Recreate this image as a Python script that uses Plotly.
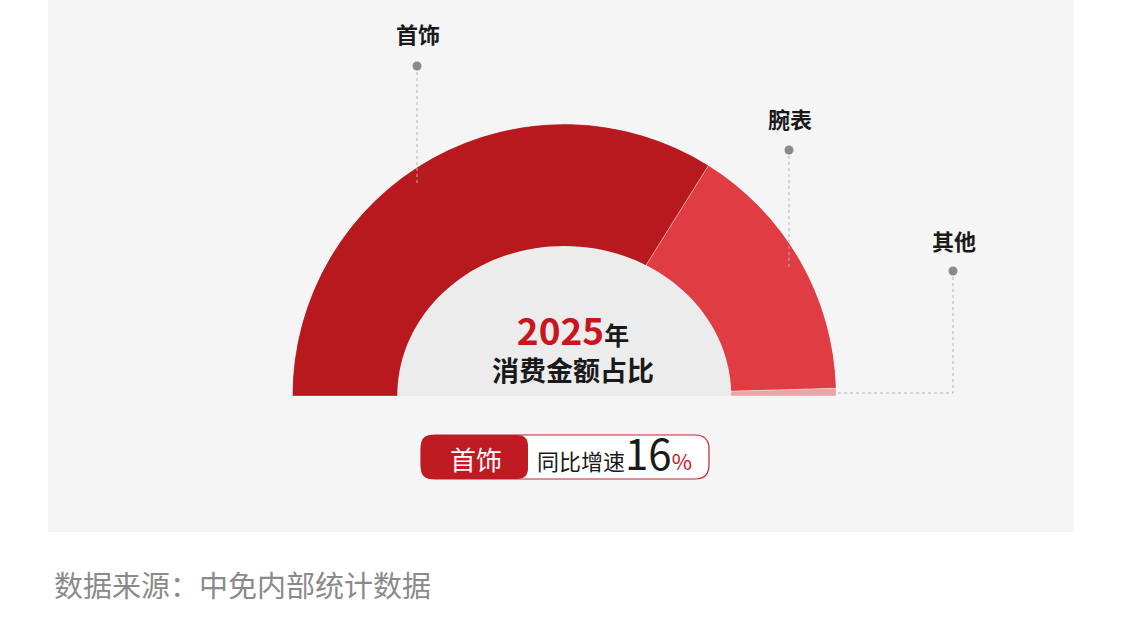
import plotly.graph_objects as go

# ---------------- data ----------------
categories = ["首饰", "腕表", "其他"]
shares = [67.8, 31.3, 0.9]          # % of consumption amount
year_label = "2025"
center_label = "消费金额占比"
highlight_category = "首饰"
growth_label = "同比增速"
growth_value = 16
source_text = "数据来源：中免内部统计数据"

# ---------------- style ----------------
colors = ["#b8191f", "#df3d43", "#eba5a8"]
FONT = "Noto Sans CJK SC"
W, H = 1126, 625


def X(px):
    return px / W


def Y(py):
    return 1 - py / H


def P(px, py):
    return f"{X(px):.5f},{Y(py):.5f}"


# angles computed from shares (half circle, clockwise from the left)
total = sum(shares)
thetas, widths = [], []
start = 180.0
for s in shares:
    span = s / total * 180.0
    thetas.append(start - span / 2)
    widths.append(span)
    start -= span

fig = go.Figure(
    go.Barpolar(
        r=[1] * len(shares),
        theta=thetas,
        width=widths,
        marker=dict(color=colors, line=dict(color="rgba(255,255,255,0.55)", width=0.6)),
        hoverinfo="skip",
        showlegend=False,
    )
)

cx, cy, R = 564.25, 396.0, 272.0
fig.update_layout(
    width=W,
    height=H,
    margin=dict(l=0, r=0, t=0, b=0),
    paper_bgcolor="#ffffff",
    plot_bgcolor="#ffffff",
    polar=dict(
        domain=dict(x=[X(cx - R), X(cx + R)], y=[Y(cy), Y(cy - R)]),
        sector=[0, 180],
        hole=0.54,
        bgcolor="rgba(0,0,0,0)",
        radialaxis=dict(visible=False, range=[0, 1], showgrid=False, showline=False,
                        showticklabels=False, ticks=""),
        angularaxis=dict(visible=False, showgrid=False, showline=False,
                         showticklabels=False, ticks=""),
    ),
)

shapes = []
# background panel
shapes.append(dict(type="rect", xref="paper", yref="paper", x0=X(48), x1=X(1074),
                   y0=Y(532), y1=1, fillcolor="#f5f5f5", line=dict(width=0), layer="below"))

# inner half ellipse
rx, ry, k = 167.0, 150.0, 0.5523
ell = (f"M {P(cx - rx, cy)} C {P(cx - rx, cy - k * ry)} {P(cx - k * rx, cy - ry)} {P(cx, cy - ry)} "
       f"C {P(cx + k * rx, cy - ry)} {P(cx + rx, cy - k * ry)} {P(cx + rx, cy)} Z")
shapes.append(dict(type="path", xref="paper", yref="paper", path=ell,
                   fillcolor="#ececec", line=dict(width=0), layer="above"))

# leader lines and labels
leaders = [
    # (label, label x, label y, dot y, path points)
    (categories[0], 418, 33, 66, [(417, 66), (417, 186)]),
    (categories[1], 790, 118, 150, [(789, 150), (789, 270)]),
    (categories[2], 954, 240, 271, [(953, 271), (953, 393), (836, 393)]),
]
annotations = []
for lab, lx, ly, dy, pts in leaders:
    path = "M " + " L ".join(P(a, b) for a, b in pts)
    shapes.append(dict(type="path", xref="paper", yref="paper", path=path,
                       line=dict(color="#b5b5b5", width=1, dash="dot"), layer="above"))
    dx = pts[0][0]
    shapes.append(dict(type="circle", xref="paper", yref="paper",
                       x0=X(dx - 4.5), x1=X(dx + 4.5), y0=Y(dy + 4.5), y1=Y(dy - 4.5),
                       fillcolor="#8a8a8a", line=dict(width=0), layer="above"))
    annotations.append(dict(x=X(lx), y=Y(ly), xref="paper", yref="paper",
                            text=f"<b>{lab}</b>", showarrow=False,
                            xanchor="center", yanchor="middle",
                            font=dict(family=FONT, size=22, color="#1a1a1a")))

# center labels (one two-line annotation)
annotations.append(dict(
    x=X(573), y=Y(345), xref="paper", yref="paper", showarrow=False,
    xanchor="center", yanchor="middle", align="center",
    text=(f"<b><span style='color:#c8161e;font-size:37px'>{year_label}</span>"
          f"<span style='font-size:25px'>年</span><br>"
          f"<span style='font-size:27px'>{center_label}</span></b>"),
    font=dict(family=FONT, size=28, color="#1a1a1a")))


# pill
def rrect(x0, y0, x1, y1, r):
    return (f"M {P(x0 + r, y0)} L {P(x1 - r, y0)} Q {P(x1, y0)} {P(x1, y0 + r)} "
            f"L {P(x1, y1 - r)} Q {P(x1, y1)} {P(x1 - r, y1)} L {P(x0 + r, y1)} "
            f"Q {P(x0, y1)} {P(x0, y1 - r)} L {P(x0, y0 + r)} Q {P(x0, y0)} {P(x0 + r, y0)} Z")


shapes.append(dict(type="path", xref="paper", yref="paper", path=rrect(421, 435, 709, 479, 14),
                   fillcolor="#ffffff", line=dict(color="#c0272d", width=1.2), layer="above"))
shapes.append(dict(type="path", xref="paper", yref="paper", path=rrect(421, 435, 528, 479, 11),
                   fillcolor="#be1b22", line=dict(width=0), layer="above"))
annotations.append(dict(
    x=X(476), y=Y(458), xref="paper", yref="paper", showarrow=False,
    xanchor="center", yanchor="middle", text=highlight_category,
    font=dict(family=FONT, size=26, color="#ffffff")))
annotations.append(dict(
    x=X(535), y=Y(452), xref="paper", yref="paper", showarrow=False,
    xanchor="left", yanchor="middle",
    text=(f"{growth_label}<span style='font-size:42px'>{growth_value}</span>"
          f"<span style='color:#c8161e;font-size:22px'>%</span>"),
    font=dict(family=FONT, size=22, color="#1a1a1a")))

# source
annotations.append(dict(
    x=X(52), y=Y(584), xref="paper", yref="paper", showarrow=False,
    xanchor="left", yanchor="middle", text=source_text,
    font=dict(family=FONT, size=29, color="#8a8a8a")))

fig.update_layout(shapes=shapes, annotations=annotations)
fig.write_html("out.html", config={"displayModeBar": False},
               post_script="document.body.style.margin='0';")
